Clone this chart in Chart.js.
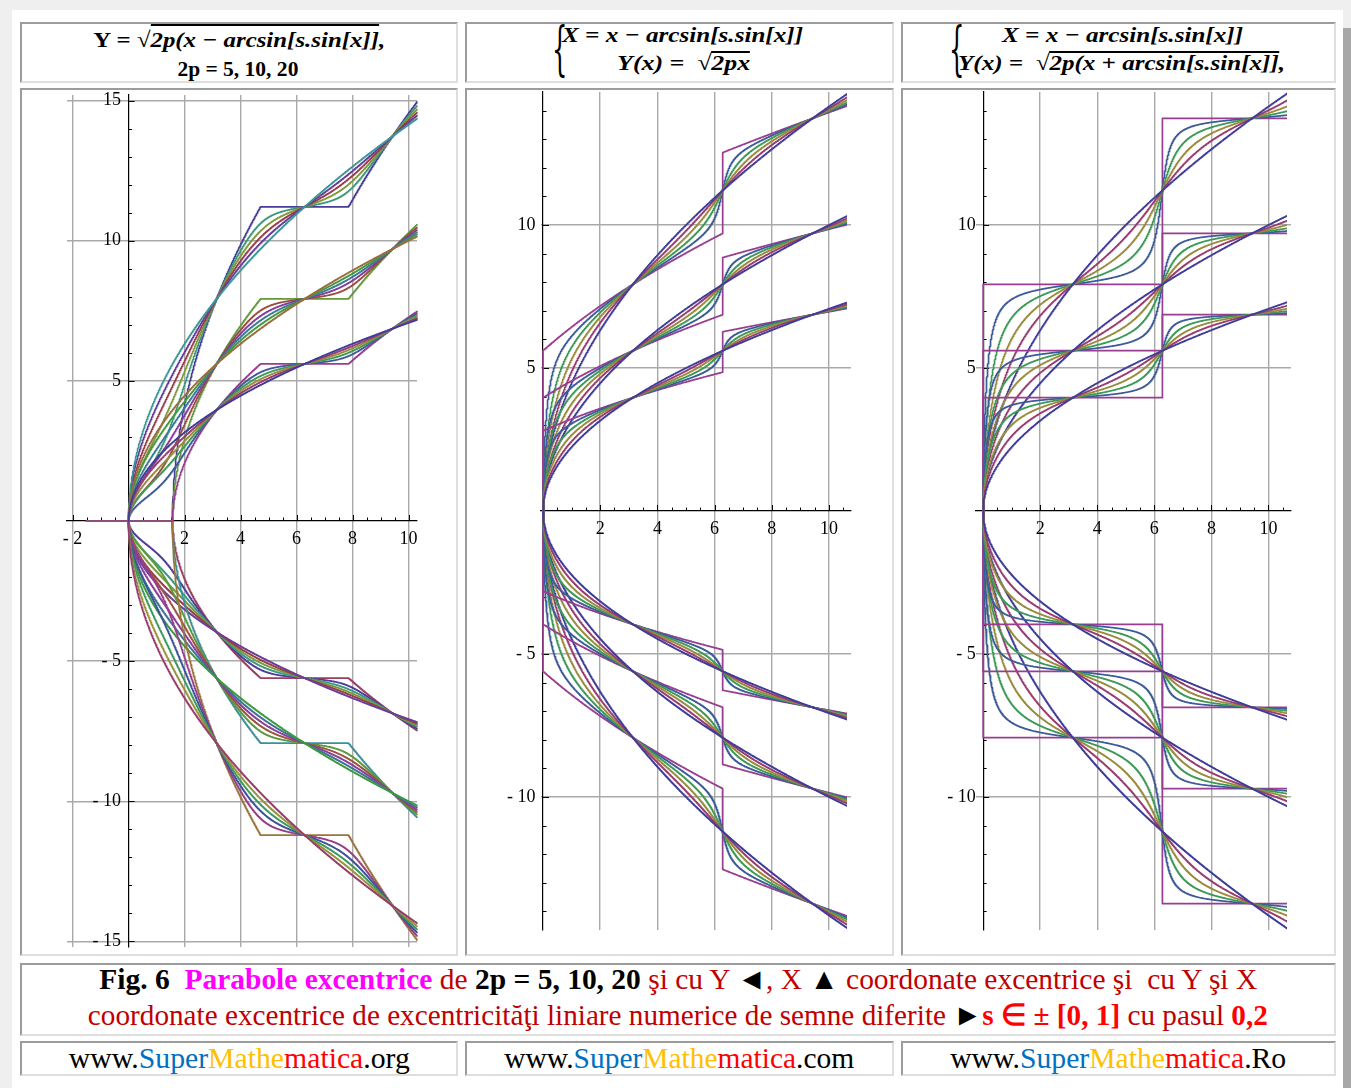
<!DOCTYPE html>
<html>
<head>
<meta charset="utf-8">
<title>Parabole excentrice</title>
<script src="https://cdn.jsdelivr.net/npm/chart.js@4.4.1/dist/chart.umd.min.js"></script>
<style>
  html, body { margin: 0; padding: 0; }
  body { width: 1351px; height: 1088px; background: #efefef; position: relative; overflow: hidden;
         font-family: "Liberation Serif", "Times New Roman", serif; }
  #page { position: absolute; left: 12px; top: 10px; width: 1331px; height: 1078px; background: #fff; }
  #edge { position: absolute; left: 1343px; top: 28px; width: 8px; height: 1060px; background: #a8a8a8; }
  .cell { position: absolute; box-sizing: border-box; border: 2px solid; border-color: #9c9c9c #dedede #dedede #9c9c9c;
          background: #fff; overflow: hidden; }
  .cell canvas { position: absolute; left: 0; top: 0; }
  .hl { position: absolute; width: 400px; text-align: center; line-height: 28px; white-space: nowrap;
        font-weight: bold; font-style: italic; font-size: 22px; color: #000; }
  .up { font-style: normal; }
  .ov { border-top: 2px solid #000; padding-top: 1px; }
  .ov2 { display: inline-block; line-height: 20px; border-top: 2px solid #000; }
  .brace { position: absolute; font-family: "DejaVu Serif", serif; font-size: 58px; line-height: 58px;
           transform: scaleX(0.42); transform-origin: left center; color: #000; }
  .fit { display: inline-block; white-space: nowrap; transform-origin: center center; }
  .cap { font-size: 30px; line-height: 36px; color: #c00000; text-align: center; }
  .foot { font-size: 29px; line-height: 31px; text-align: center; color: #000; }
  .b { font-weight: bold; }
  .k { color: #000; }
  .mg { color: #ff00ff; }
  .rd { color: #ff0000; }
  .bl { color: #0070c0; }
  .gd { color: #ffc000; }
</style>
</head>
<body>
<div id="page"></div>
<div id="edge"></div>

<!-- formula headers -->
<div class="cell" style="left:20px;top:22px;width:438px;height:61px;">
  <div class="hl" style="left:17px;top:2px;"><span class="fit" data-w="292"><span class="up">Y =</span> √<span class="ov">2<i>p</i>(<i>x</i> − <i>arcsin</i>[<i>s</i>.<i>sin</i>[<i>x</i>]]</span>,</span></div>
  <div class="hl up" style="left:16px;top:31px;"><span class="fit" data-w="121">2p = 5, 10, 20</span></div>
</div>
<div class="cell" style="left:465px;top:22px;width:429px;height:61px;">
  <span class="brace" style="left:85px;top:-4px;">{</span>
  <div class="hl" style="left:16px;top:-3px;"><span class="fit" data-w="241">X = x − arcsin[s.sin[x]]</span></div>
  <div class="hl" style="left:17px;top:25px;"><span class="fit" data-w="133">Y(x) = &nbsp;√<span class="ov2">2px</span></span></div>
</div>
<div class="cell" style="left:901px;top:22px;width:435px;height:61px;">
  <span class="brace" style="left:46px;top:-4px;">{</span>
  <div class="hl" style="left:20px;top:-3px;"><span class="fit" data-w="241">X = x − arcsin[s.sin[x]]</span></div>
  <div class="hl" style="left:19px;top:25px;"><span class="fit" data-w="327">Y(x) = &nbsp;√<span class="ov2">2p(x + arcsin[s.sin[x]]</span>,</span></div>
</div>

<!-- plots -->
<div class="cell" style="left:20px;top:88px;width:438px;height:868px;"><canvas id="c1" width="434" height="864"></canvas></div>
<div class="cell" style="left:465px;top:88px;width:429px;height:868px;"><canvas id="c2" width="425" height="864"></canvas></div>
<div class="cell" style="left:901px;top:88px;width:435px;height:868px;"><canvas id="c3" width="431" height="864"></canvas></div>

<!-- caption -->
<div class="cell cap" style="left:20px;top:963px;width:1316px;height:73px;">
  <div style="margin-top:-4px;">
  <span class="fit" data-w="1158"><span class="k b">Fig. 6</span>&nbsp; <span class="mg b">Parabole excentrice</span> de <span class="k b">2p = 5, 10, 20</span> şi cu Y <span class="k">◄</span>, X <span class="k">▲</span> coordonate excentrice şi &nbsp;cu Y şi X</span><br>
  <span class="fit" data-w="1180">coordonate excentrice de excentricităţi liniare numerice de semne diferite <span class="k">►</span><span class="rd b">s ∈ ± [0, 1]</span> cu pasul <span class="rd b">0,2</span></span>
  </div>
</div>

<!-- footer -->
<div class="cell foot" style="left:20px;top:1041px;width:438px;height:35px;">
  <span class="fit" data-w="341">www.<span class="bl">Super</span><span class="gd">Mathe</span><span class="rd">matica</span>.org</span>
</div>
<div class="cell foot" style="left:465px;top:1041px;width:429px;height:35px;">
  <span class="fit" data-w="350">www.<span class="bl">Super</span><span class="gd">Mathe</span><span class="rd">matica</span>.com</span>
</div>
<div class="cell foot" style="left:901px;top:1041px;width:435px;height:35px;">
  <span class="fit" data-w="336">www.<span class="bl">Super</span><span class="gd">Mathe</span><span class="rd">matica</span>.Ro</span>
</div>

<script>
// ---------- parameters of the curve families ----------
const twoP = [5, 10, 20];                       // 2p values
const sValues = [0, 0.2, 0.4, 0.6, 0.8, 1];     // eccentricity s, step 0.2

// plot windows
const range1 = { xMin: -2.2, xMax: 10.3, yMin: -15.2, yMax: 15.2 };
const range2 = { xMin: -0.07, xMax: 10.77, yMin: -14.65, yMax: 14.65 };
const range3 = { xMin: -0.25, xMax: 10.79, yMin: -14.65, yMax: 14.65 };

// parameter domains
const xDomain1 = [-1.5, 10.3];
const tDomain23 = [0, 11];

// axis tick values and labels
const xTicks1 = [-2, 0, 2, 4, 6, 8, 10];
const xLabels1 = ['- 2', '', '2', '4', '6', '8', '10'];
const yTicks1 = [-15, -10, -5, 0, 5, 10, 15];
const yLabels1 = ['- 15', '- 10', '- 5', '', '5', '10', '15'];
const xTicks23 = [0, 2, 4, 6, 8, 10];
const xLabels23 = ['', '2', '4', '6', '8', '10'];
const yTicks23 = [-10, -5, 0, 5, 10];
const yLabels23 = ['- 10', '- 5', '', '5', '10'];

// ---------- helpers ----------
function hsvToRgb(h, s, v) {
  const i = Math.floor(h * 6), f = h * 6 - i;
  const p = v * (1 - s), q = v * (1 - f * s), t = v * (1 - (1 - f) * s);
  const m = [[v, t, p], [q, v, p], [p, v, t], [p, q, v], [t, p, v], [v, p, q]][i % 6];
  return 'rgb(' + m.map(c => Math.round(c * 255)).join(',') + ')';
}
// default plot-style colour sequence (golden-ratio hue steps)
function styleColor(k) { return hsvToRgb((0.67 + 0.236068 * k) % 1, 0.6, 0.6); }

// sample grid on [a,b] including the corner points k*pi/2
function sampleGrid(a, b, step) {
  const out = [];
  for (let v = a; v <= b + 1e-9; v += step) out.push(+v.toFixed(6));
  for (let k = Math.ceil(a / (Math.PI / 2)); k * Math.PI / 2 <= b; k++) out.push(k * Math.PI / 2);
  return out.sort((p, q) => p - q);
}
function ecc(x, s) { return Math.asin(s * Math.sin(x)); }
function safeSqrt(u) { if (u < -1e-9) return NaN; return Math.sqrt(Math.max(u, 0)); }

const grid1 = sampleGrid(xDomain1[0], xDomain1[1], 0.01);
const grid23 = sampleGrid(tDomain23[0], tDomain23[1], 0.01);

// ---------- curve families ----------
// panel 1: Y = ±sqrt(2p (x - arcsin(s sin x)))
function curve1(tp, s, sign) {
  const pts = [];
  for (const x of grid1) {
    const y = safeSqrt(tp * (x - ecc(x, s)));
    if (!isNaN(y)) pts.push({ x: x, y: sign * y });
  }
  return pts;
}
// panel 2: X = x - arcsin(s sin x), Y = ±sqrt(2p x)
function curve2(tp, s, sign) {
  return grid23.map(t => ({ x: t - ecc(t, s), y: sign * Math.sqrt(tp * t) }));
}
// panel 3: X = x - arcsin(s sin x), Y = ±sqrt(2p (x + arcsin(s sin x)))
function curve3(tp, s, sign) {
  const pts = [];
  for (const t of grid23) {
    const y = safeSqrt(tp * (t + ecc(t, s)));
    if (!isNaN(y)) pts.push({ x: t - ecc(t, s), y: sign * y });
  }
  return pts;
}

function lineSet(data, color, clip) {
  return { data: data, showLine: true, borderColor: color, borderWidth: 1.7, pointRadius: 0,
           borderJoinStyle: 'round', borderCapStyle: 'round',
           fill: false, tension: 0, clip: clip };
}

// panel 1: colours run through all 36 curves in plotting order
const sets1 = [];
const order1 = [[1, 0], [1, 1], [1, 2], [-1, 2], [-1, 1], [-1, 0]];
order1.forEach(([sign, pi], g) => {
  sValues.forEach((s, j) => {
    sets1.push(lineSet(curve1(twoP[pi], s, sign), styleColor(g * 6 + j), 2));
  });
});

// panels 2 and 3: one colour per value of s
function familySets(fn) {
  const sets = [];
  [1, -1].forEach(sign => twoP.forEach(tp => sValues.forEach((s, j) => {
    sets.push(lineSet(fn(tp, s, sign), styleColor(j), { left: 2, top: 2, right: -4, bottom: 2 }));
  })));
  return sets;
}
const sets2 = familySets(curve2);
const sets3 = familySets(curve3);

// ---------- axes drawn through the origin with major/minor ticks ----------
const originTicks = {
  id: 'originTicks',
  beforeDatasetsDraw(chart, args, o) {
    const { ctx, scales: { x, y } } = chart;
    const x0 = x.getPixelForValue(0), y0 = y.getPixelForValue(0);
    ctx.save();
    ctx.strokeStyle = '#000';
    ctx.lineWidth = 1;
    ctx.beginPath();
    for (let i = Math.ceil(x.min / o.xMinor); i * o.xMinor <= x.max; i++) {
      const v = i * o.xMinor;
      if (Math.abs(v) < 1e-9) continue;
      const major = Math.abs(v / o.xMajor - Math.round(v / o.xMajor)) < 1e-6;
      const px = Math.round(x.getPixelForValue(v)) + 0.5;
      ctx.moveTo(px, y0); ctx.lineTo(px, y0 - (major ? 6 : 3.5));
    }
    for (let i = Math.ceil(y.min / o.yMinor); i * o.yMinor <= y.max; i++) {
      const v = i * o.yMinor;
      if (Math.abs(v) < 1e-9) continue;
      const major = Math.abs(v / o.yMajor - Math.round(v / o.yMajor)) < 1e-6;
      const py = Math.round(y.getPixelForValue(v)) + 0.5;
      ctx.moveTo(x0, py); ctx.lineTo(x0 + (major ? 6 : 3.5), py);
    }
    ctx.stroke();
    ctx.restore();
  }
};

// vertical-axis labels sit a small gap left of the axis line
const labelGap = '\u2005\u2006';

function axisScale(range, key, other, tickValues, tickLabels, pad) {
  const vertical = key === 'y';
  return {
    type: 'linear',
    min: range[key + 'Min'], max: range[key + 'Max'],
    position: { [other]: 0 },
    afterBuildTicks: sc => { sc.ticks = tickValues.map(v => ({ value: v })); },
    afterFit: sc => { sc.paddingLeft = 0; sc.paddingRight = 0; sc.paddingTop = 0; sc.paddingBottom = 0; },
    grid: {
      drawTicks: false,
      lineWidth: 1.4,
      color: c => (c.tick && c.tick.value === 0) ? 'rgba(0,0,0,0)' : '#a9a9a9'
    },
    border: { display: true, color: '#000', width: 1.2 },
    ticks: {
      autoSkip: false, maxRotation: 0, padding: pad, color: '#000',
      font: { family: 'Liberation Serif', size: 18 },
      callback: v => {
        const i = tickValues.indexOf(v);
        const t = i < 0 ? '' : tickLabels[i];
        return (vertical && t) ? t + labelGap : t;
      }
    }
  };
}

function makeChart(id, datasets, range, ticks, padding, minor) {
  return new Chart(document.getElementById(id), {
    type: 'scatter',
    data: { datasets: datasets },
    options: {
      responsive: false, animation: false, events: [],
      parsing: false,
      layout: { padding: padding, autoPadding: false },
      plugins: { legend: { display: false }, tooltip: { enabled: false }, originTicks: minor },
      scales: {
        x: axisScale(range, 'x', 'y', ticks.xv, ticks.xl, 7),
        y: axisScale(range, 'y', 'x', ticks.yv, ticks.yl, 0)
      }
    },
    plugins: [originTicks]
  });
}

makeChart('c1', sets1, range1, { xv: xTicks1, xl: xLabels1, yv: yTicks1, yl: yLabels1 },
  { left: 45, right: 39, top: 5, bottom: 7 }, { xMinor: 0.5, xMajor: 2, yMinor: 1, yMajor: 5 });
makeChart('c2', sets2, range2, { xv: xTicks23, xl: xLabels23, yv: yTicks23, yl: yLabels23 },
  { left: 74, right: 41, top: 2, bottom: 24 }, { xMinor: 0.5, xMajor: 2, yMinor: 1, yMajor: 5 });
makeChart('c3', sets3, range3, { xv: xTicks23, xl: xLabels23, yv: yTicks23, yl: yLabels23 },
  { left: 73, right: 43, top: 2, bottom: 24 }, { xMinor: 0.5, xMajor: 2, yMinor: 1, yMajor: 5 });

// squeeze text lines to their measured widths
document.querySelectorAll('.fit').forEach(el => {
  const w = el.getBoundingClientRect().width;
  const target = +el.dataset.w;
  if (w > 0) el.style.transform = 'scaleX(' + (target / w).toFixed(4) + ')';
});
</script>
</body>
</html>
